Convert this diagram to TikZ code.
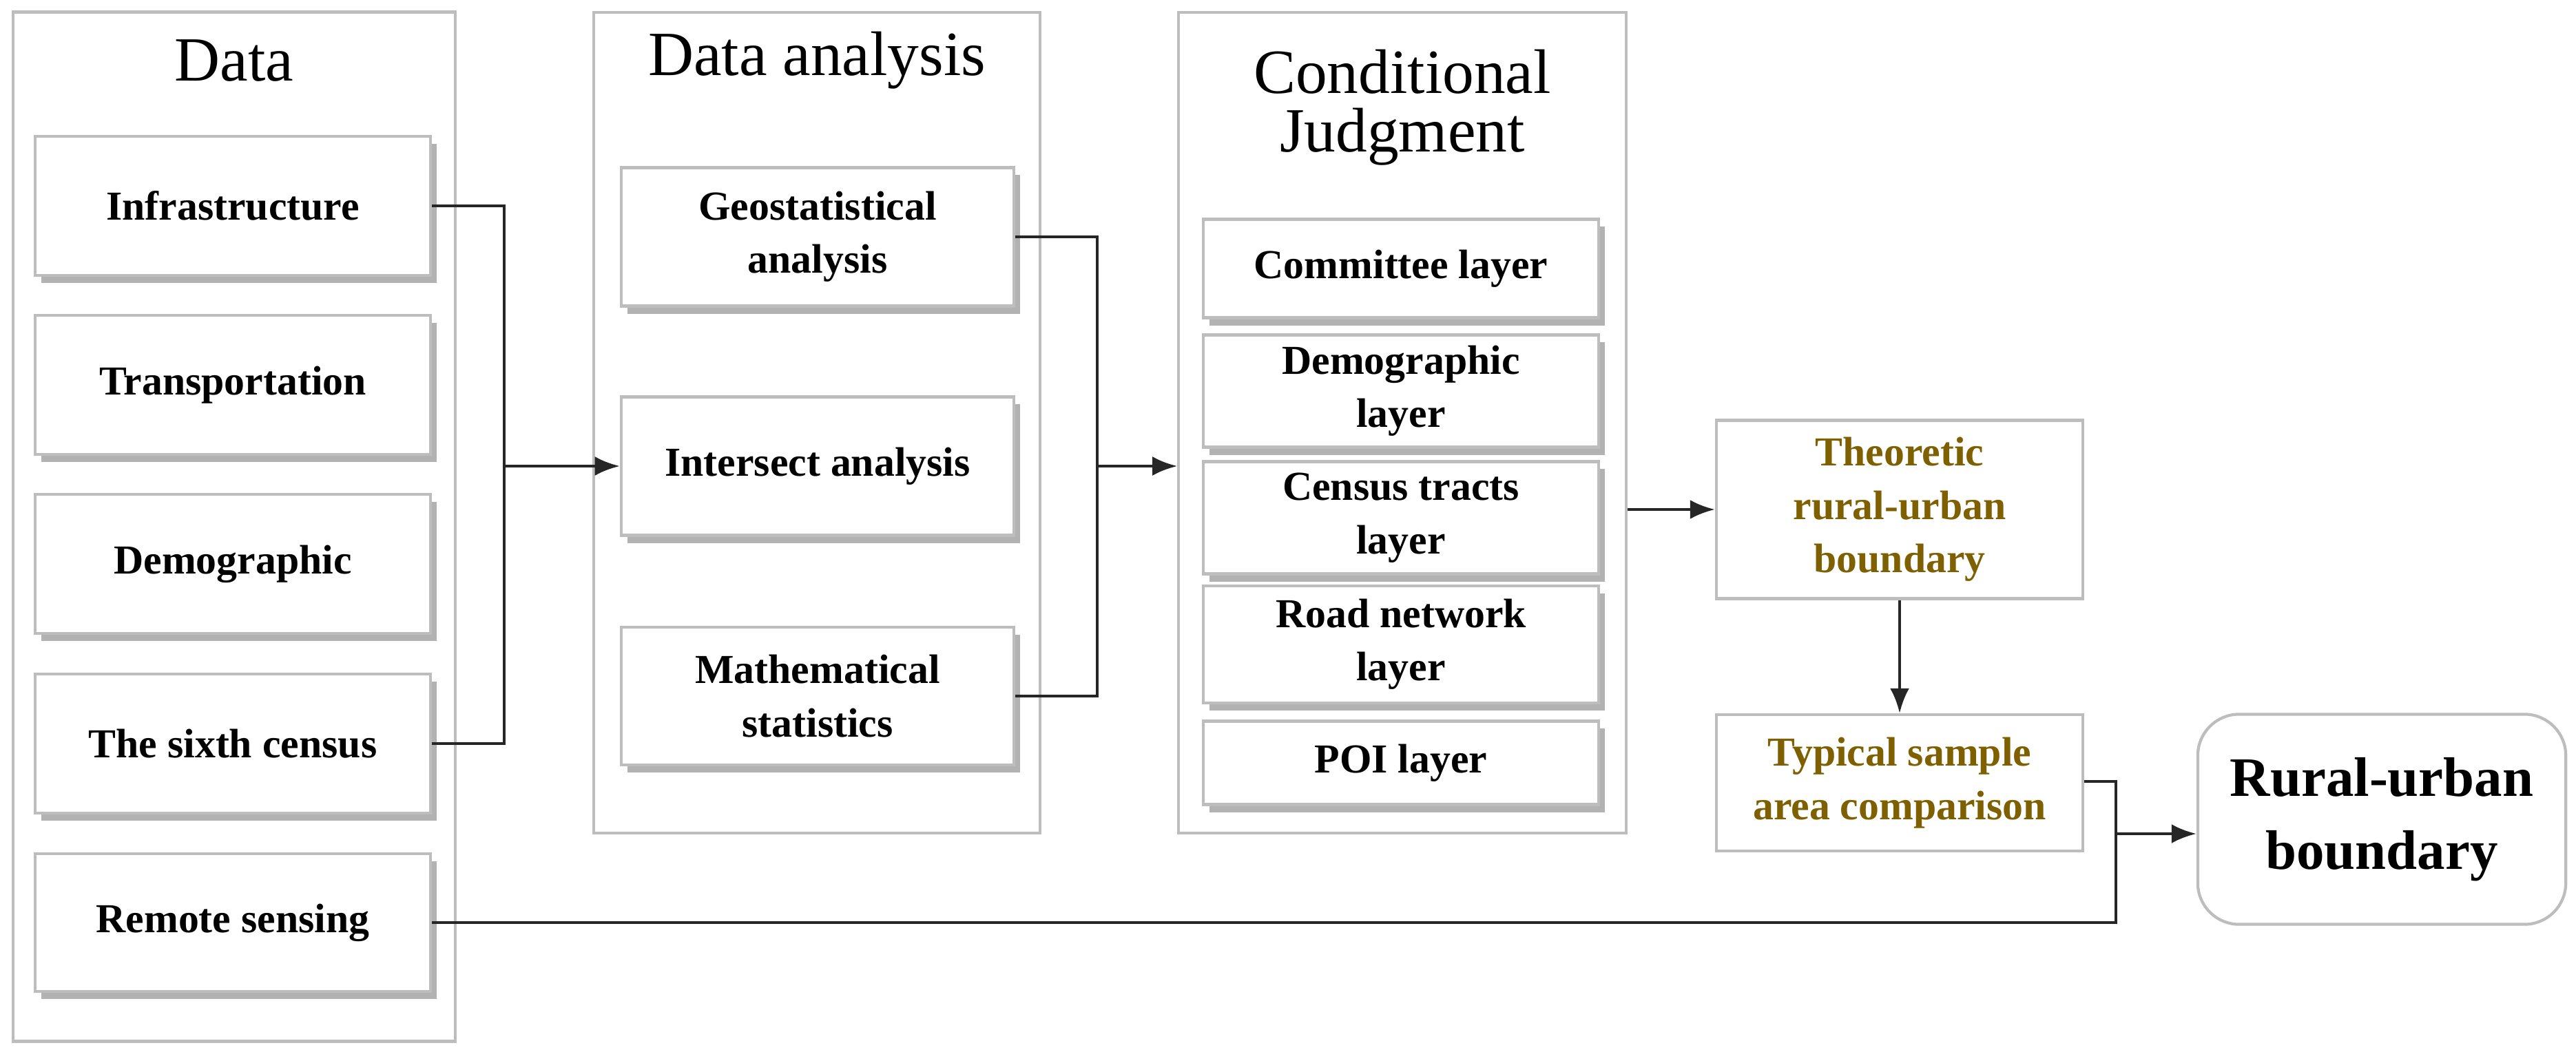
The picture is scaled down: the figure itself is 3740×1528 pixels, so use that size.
\documentclass[tikz,border=0pt]{standalone}
\usepackage{fontspec}
\setmainfont{Liberation Serif}
\usetikzlibrary{positioning, arrows, arrows.meta, calc, shadows}
\definecolor{olivetext}{HTML}{7F6000}
\definecolor{frame}{HTML}{BDBDBD}

\tikzset{
	panel/.style={draw=frame, line width=1.2pt, inner sep=0pt},
	title/.style={font=\fontsize{26}{30}\selectfont, align=center},
	item/.style={draw=frame, line width=1.2pt, fill=white, align=center, inner sep=2pt,
		font=\bfseries\fontsize{17}{22}\selectfont,
		drop shadow={shadow xshift=0.9mm, shadow yshift=-1.1mm, fill=black, opacity=0.3}},
	result/.style={draw=frame, line width=1.2pt, fill=white, align=center, text=olivetext,
		font=\bfseries\fontsize{17}{22}\selectfont, minimum width=5.32cm},
	link/.style={line width=1.3pt, draw=black!85},
	tip/.style={-{Latex[length=3.6mm, width=2.8mm]}},
}

\begin{document}
\begin{tikzpicture}[x=0.01cm, y=-0.01cm]
		\useasboundingbox (0,0) rectangle (3740,1528);
		
		%Panels
		\node[panel, minimum width=6.42cm, minimum height=14.94cm] (datapanel) at (340,765) {};
		\node[panel, minimum width=6.47cm, minimum height=11.92cm] (anapanel) at (1186,614) {};
		\node[panel, minimum width=6.49cm, minimum height=11.92cm] (condpanel) at (2036,614) {};
		\node[title] (datatitle) at (340,88) {Data};
		\node[title] (anatitle) at (1186,88) {Data analysis};
		\node[title, font=\fontsize{26}{24}\selectfont] (condtitle) at (2036,156) {Conditional\\Judgment};
		
		%Data
		\node[item, minimum width=5.73cm, minimum height=2.02cm] (infra) at (338,299) {Infrastructure};
		\node[item, minimum width=5.73cm, minimum height=2.02cm] (trans) at (338,559) {Transportation};
		\node[item, minimum width=5.73cm, minimum height=2.02cm] (demo) at (338,819) {Demographic};
		\node[item, minimum width=5.73cm, minimum height=2.02cm] (census) at (338,1080) {The sixth census};
		\node[item, minimum width=5.73cm, minimum height=2.0cm] (remote) at (338,1340) {Remote sensing};
		
		%Data analysis
		\node[item, minimum width=5.70cm, minimum height=2.01cm] (geo) at (1187,344) {Geostatistical\\analysis};
		\node[item, minimum width=5.70cm, minimum height=2.01cm] (inter) at (1187,677) {Intersect analysis};
		\node[item, minimum width=5.70cm, minimum height=2.00cm] (math) at (1187,1011) {Mathematical\\statistics};
		
		%Conditional judgment
		\node[item, minimum width=5.73cm, minimum height=1.43cm] (committee) at (2034,390) {Committee layer};
		\node[item, minimum width=5.73cm, minimum height=1.63cm] (demolayer) at (2034,568) {Demographic\\layer};
		\node[item, minimum width=5.73cm, minimum height=1.63cm] (tracts) at (2034,752) {Census tracts\\layer};
		\node[item, minimum width=5.73cm, minimum height=1.70cm] (road) at (2034,936) {Road network\\layer};
		\node[item, minimum width=5.73cm, minimum height=1.21cm] (poi) at (2034,1108) {POI layer};
		
		%Results
		\node[result, minimum height=2.59cm] (theoretic) at (2758,740) {Theoretic\\rural-urban\\boundary};
		\node[result, minimum height=1.98cm] (typical) at (2758,1137) {Typical sample\\area comparison};
		\node[draw=frame, line width=1.2pt, rounded corners=0.6cm, align=center, minimum width=5.34cm,
			minimum height=3.05cm, font=\bfseries\fontsize{23}{30}\selectfont] (rural) at (3458,1190) {Rural-urban\\boundary};
		
		%Junctions
		\coordinate (jdata) at (732,677);
		\coordinate (jana) at (1593,677);
		\coordinate (jres) at (3072,1211);
		
		%Links
		\draw[link] (infra.east) -| (jdata) |- (census.east);
		\draw[link, tip] (jdata) -- (inter.west);
		\draw[link] (geo.east) -| (jana) |- (math.east);
		\draw[link, tip] (jana) -- (jana -| condpanel.west);
		\draw[link, tip] (condpanel.east |- theoretic.west) -- (theoretic.west);
		\draw[link, tip] (theoretic.south) -- (typical.north);
		\draw[link] (typical.east |- 0,1135) -| (jres) |- (remote.east);
		\draw[link, tip] (jres) -- (jres -| rural.west);
		
\end{tikzpicture}
\end{document}
